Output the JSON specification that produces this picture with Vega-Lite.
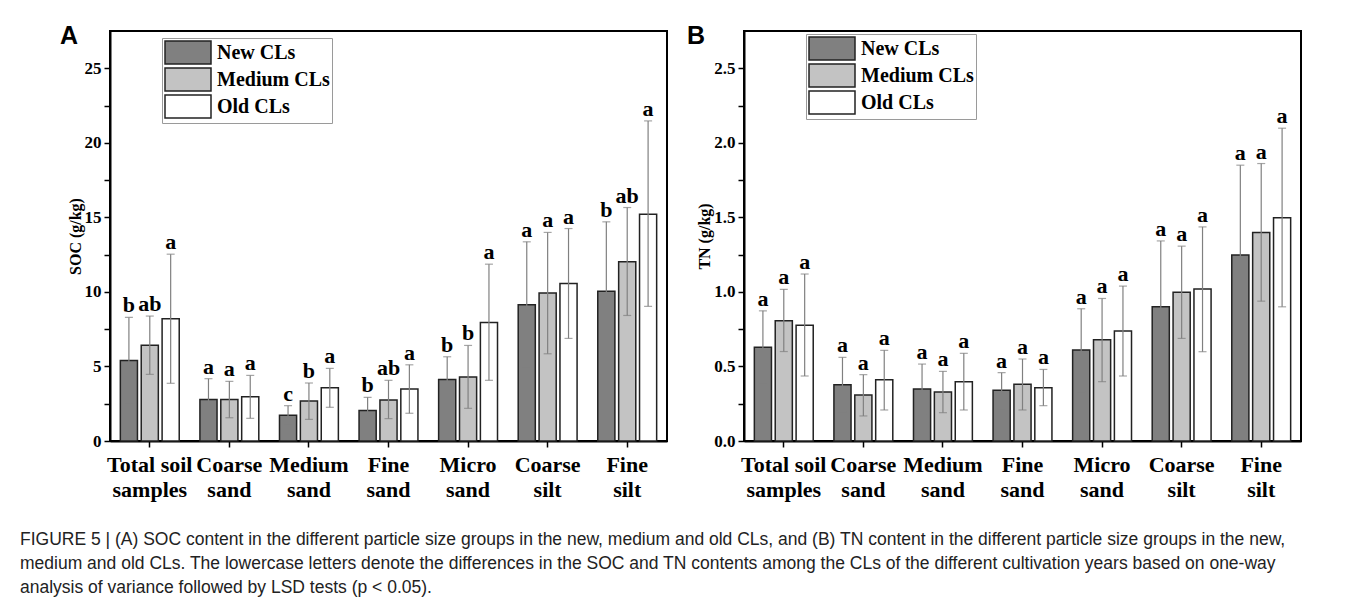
{
  "$schema": "https://vega.github.io/schema/vega-lite/v6.json",
  "padding": {"left": 20, "top": 23, "right": 5, "bottom": 0},
  "background": "white",
  "datasets": {
    "soc": [
      {"c": "Total soil|samples", "g": "New CLs", "m": 5.4, "lo": 2.46, "hi": 8.29, "l": "b"},
      {"c": "Total soil|samples", "g": "Medium CLs", "m": 6.43, "lo": 4.47, "hi": 8.38, "l": "ab"},
      {"c": "Total soil|samples", "g": "Old CLs", "m": 8.2, "lo": 3.87, "hi": 12.53, "l": "a"},
      {"c": "Coarse|sand", "g": "New CLs", "m": 2.79, "lo": 1.39, "hi": 4.18, "l": "a"},
      {"c": "Coarse|sand", "g": "Medium CLs", "m": 2.79, "lo": 1.56, "hi": 4.0, "l": "a"},
      {"c": "Coarse|sand", "g": "Old CLs", "m": 2.97, "lo": 1.52, "hi": 4.4, "l": "a"},
      {"c": "Medium|sand", "g": "New CLs", "m": 1.72, "lo": 1.05, "hi": 2.37, "l": "c"},
      {"c": "Medium|sand", "g": "Medium CLs", "m": 2.68, "lo": 1.45, "hi": 3.89, "l": "b"},
      {"c": "Medium|sand", "g": "Old CLs", "m": 3.57, "lo": 2.26, "hi": 4.87, "l": "a"},
      {"c": "Fine|sand", "g": "New CLs", "m": 2.05, "lo": 1.14, "hi": 2.93, "l": "b"},
      {"c": "Fine|sand", "g": "Medium CLs", "m": 2.75, "lo": 1.5, "hi": 4.07, "l": "ab"},
      {"c": "Fine|sand", "g": "Old CLs", "m": 3.49, "lo": 1.86, "hi": 5.11, "l": "a"},
      {"c": "Micro|sand", "g": "New CLs", "m": 4.13, "lo": 2.63, "hi": 5.65, "l": "b"},
      {"c": "Micro|sand", "g": "Medium CLs", "m": 4.29, "lo": 2.19, "hi": 6.41, "l": "b"},
      {"c": "Micro|sand", "g": "Old CLs", "m": 7.95, "lo": 4.07, "hi": 11.86, "l": "a"},
      {"c": "Coarse|silt", "g": "New CLs", "m": 9.14, "lo": 4.87, "hi": 13.36, "l": "a"},
      {"c": "Coarse|silt", "g": "Medium CLs", "m": 9.92, "lo": 5.85, "hi": 13.99, "l": "a"},
      {"c": "Coarse|silt", "g": "Old CLs", "m": 10.57, "lo": 6.88, "hi": 14.25, "l": "a"},
      {"c": "Fine|silt", "g": "New CLs", "m": 10.05, "lo": 5.41, "hi": 14.7, "l": "b"},
      {"c": "Fine|silt", "g": "Medium CLs", "m": 12.02, "lo": 8.42, "hi": 15.66, "l": "ab"},
      {"c": "Fine|silt", "g": "Old CLs", "m": 15.21, "lo": 9.03, "hi": 21.47, "l": "a"}
    ],
    "tn": [
      {"c": "Total soil|samples", "g": "New CLs", "m": 0.628, "lo": 0.38, "hi": 0.873, "l": "a"},
      {"c": "Total soil|samples", "g": "Medium CLs", "m": 0.806, "lo": 0.6, "hi": 1.017, "l": "a"},
      {"c": "Total soil|samples", "g": "Old CLs", "m": 0.777, "lo": 0.436, "hi": 1.12, "l": "a"},
      {"c": "Coarse|sand", "g": "New CLs", "m": 0.377, "lo": 0.197, "hi": 0.561, "l": "a"},
      {"c": "Coarse|sand", "g": "Medium CLs", "m": 0.308, "lo": 0.168, "hi": 0.445, "l": "a"},
      {"c": "Coarse|sand", "g": "Old CLs", "m": 0.411, "lo": 0.208, "hi": 0.608, "l": "a"},
      {"c": "Medium|sand", "g": "New CLs", "m": 0.349, "lo": 0.176, "hi": 0.516, "l": "a"},
      {"c": "Medium|sand", "g": "Medium CLs", "m": 0.328, "lo": 0.19, "hi": 0.467, "l": "a"},
      {"c": "Medium|sand", "g": "Old CLs", "m": 0.398, "lo": 0.208, "hi": 0.588, "l": "a"},
      {"c": "Fine|sand", "g": "New CLs", "m": 0.34, "lo": 0.217, "hi": 0.458, "l": "a"},
      {"c": "Fine|sand", "g": "Medium CLs", "m": 0.38, "lo": 0.208, "hi": 0.55, "l": "a"},
      {"c": "Fine|sand", "g": "Old CLs", "m": 0.357, "lo": 0.237, "hi": 0.48, "l": "a"},
      {"c": "Micro|sand", "g": "New CLs", "m": 0.61, "lo": 0.328, "hi": 0.887, "l": "a"},
      {"c": "Micro|sand", "g": "Medium CLs", "m": 0.679, "lo": 0.398, "hi": 0.956, "l": "a"},
      {"c": "Micro|sand", "g": "Old CLs", "m": 0.737, "lo": 0.436, "hi": 1.039, "l": "a"},
      {"c": "Coarse|silt", "g": "New CLs", "m": 0.9, "lo": 0.458, "hi": 1.342, "l": "a"},
      {"c": "Coarse|silt", "g": "Medium CLs", "m": 0.997, "lo": 0.688, "hi": 1.307, "l": "a"},
      {"c": "Coarse|silt", "g": "Old CLs", "m": 1.019, "lo": 0.599, "hi": 1.436, "l": "a"},
      {"c": "Fine|silt", "g": "New CLs", "m": 1.247, "lo": 0.65, "hi": 1.85, "l": "a"},
      {"c": "Fine|silt", "g": "Medium CLs", "m": 1.399, "lo": 0.938, "hi": 1.861, "l": "a"},
      {"c": "Fine|silt", "g": "Old CLs", "m": 1.497, "lo": 0.9, "hi": 2.098, "l": "a"}
    ]
  },
  "bounds": "flush",
  "spacing": 77,
  "resolve": {"scale": {"fill": "independent", "y": "independent"}, "legend": {"fill": "independent"}},
  "title": {
    "text": [
      "FIGURE 5 | (A) SOC content in the different particle size groups in the new, medium and old CLs, and (B) TN content in the different particle size groups in the new,",
      "medium and old CLs. The lowercase letters denote the differences in the SOC and TN contents among the CLs of the different cultivation years based on one-way",
      "analysis of variance followed by LSD tests (p < 0.05)."
    ],
    "orient": "bottom",
    "anchor": "start",
    "frame": "group",
    "dx": -90,
    "offset": 30,
    "font": "Liberation Sans",
    "fontSize": 17.5,
    "fontWeight": "normal",
    "lineHeight": 24,
    "color": "#222"
  },
  "hconcat": [
    {
      "width": 557,
      "height": 410,
      "title": {"text": "A", "anchor": "start", "frame": "group", "dx": -50, "dy": 38, "offset": 0, "baseline": "alphabetic", "font": "Liberation Sans", "fontSize": 25, "fontWeight": "bold", "color": "black"},
      "data": {"name": "soc"},
      "layer": [
        {
          "mark": {"type": "bar", "stroke": "#222", "strokeWidth": 1.5},
          "encoding": {
            "x": {"field": "c", "type": "nominal", "sort": ["Total soil|samples", "Coarse|sand", "Medium|sand", "Fine|sand", "Micro|sand", "Coarse|silt", "Fine|silt"], "scale": {"paddingInner": 0.26, "paddingOuter": 0.13}, "axis": {"title": null, "labelExpr": "split(datum.value, '|')", "labelAngle": 0}},
            "xOffset": {"field": "g", "type": "nominal", "sort": ["New CLs", "Medium CLs", "Old CLs"], "scale": {"paddingInner": 0.18, "paddingOuter": 0}},
            "y": {"field": "m", "type": "quantitative", "scale": {"domain": [0, 27.5], "nice": false}, "axis": {"title": "SOC (g/kg)", "values": [0, 2.5, 5, 7.5, 10, 12.5, 15, 17.5, 20, 22.5, 25], "labelExpr": "datum.value % 5 === 0 ? datum.label : ''"}},
            "fill": {"field": "g", "type": "nominal", "sort": ["New CLs", "Medium CLs", "Old CLs"], "scale": {"domain": ["New CLs", "Medium CLs", "Old CLs"], "range": ["#808080", "#c3c3c3", "#ffffff"]}, "legend": {"legendX": 52, "legendY": 7}}
          }
        },
        {
          "mark": {"type": "rule", "color": "#808080", "strokeWidth": 1.2},
          "encoding": {
            "x": {"field": "c", "type": "nominal", "sort": ["Total soil|samples", "Coarse|sand", "Medium|sand", "Fine|sand", "Micro|sand", "Coarse|silt", "Fine|silt"]},
            "xOffset": {"field": "g", "type": "nominal", "sort": ["New CLs", "Medium CLs", "Old CLs"]},
            "y": {"field": "lo", "type": "quantitative"},
            "y2": {"field": "hi"}
          }
        },
        {
          "mark": {"type": "tick", "color": "#808080", "thickness": 1.2, "size": 8},
          "encoding": {
            "x": {"field": "c", "type": "nominal", "sort": ["Total soil|samples", "Coarse|sand", "Medium|sand", "Fine|sand", "Micro|sand", "Coarse|silt", "Fine|silt"]},
            "xOffset": {"field": "g", "type": "nominal", "sort": ["New CLs", "Medium CLs", "Old CLs"]},
            "y": {"field": "lo", "type": "quantitative"}
          }
        },
        {
          "mark": {"type": "tick", "color": "#808080", "thickness": 1.2, "size": 8},
          "encoding": {
            "x": {"field": "c", "type": "nominal", "sort": ["Total soil|samples", "Coarse|sand", "Medium|sand", "Fine|sand", "Micro|sand", "Coarse|silt", "Fine|silt"]},
            "xOffset": {"field": "g", "type": "nominal", "sort": ["New CLs", "Medium CLs", "Old CLs"]},
            "y": {"field": "hi", "type": "quantitative"}
          }
        },
        {
          "mark": {"type": "text", "font": "Liberation Serif", "fontWeight": "bold", "fontSize": 22, "baseline": "alphabetic", "dy": -5, "color": "black"},
          "encoding": {
            "x": {"field": "c", "type": "nominal", "sort": ["Total soil|samples", "Coarse|sand", "Medium|sand", "Fine|sand", "Micro|sand", "Coarse|silt", "Fine|silt"]},
            "xOffset": {"field": "g", "type": "nominal", "sort": ["New CLs", "Medium CLs", "Old CLs"]},
            "y": {"field": "hi", "type": "quantitative"},
            "text": {"field": "l"}
          }
        }
      ]
    },
    {
      "width": 557,
      "height": 410,
      "title": {"text": "B", "anchor": "start", "frame": "group", "dx": -57, "dy": 38, "offset": 0, "baseline": "alphabetic", "font": "Liberation Sans", "fontSize": 25, "fontWeight": "bold", "color": "black"},
      "data": {"name": "tn"},
      "layer": [
        {
          "mark": {"type": "bar", "stroke": "#222", "strokeWidth": 1.5},
          "encoding": {
            "x": {"field": "c", "type": "nominal", "sort": ["Total soil|samples", "Coarse|sand", "Medium|sand", "Fine|sand", "Micro|sand", "Coarse|silt", "Fine|silt"], "scale": {"paddingInner": 0.26, "paddingOuter": 0.13}, "axis": {"title": null, "labelExpr": "split(datum.value, '|')", "labelAngle": 0}},
            "xOffset": {"field": "g", "type": "nominal", "sort": ["New CLs", "Medium CLs", "Old CLs"], "scale": {"paddingInner": 0.18, "paddingOuter": 0}},
            "y": {"field": "m", "type": "quantitative", "scale": {"domain": [0, 2.75], "nice": false}, "axis": {"title": "TN (g/kg)", "values": [0, 0.25, 0.5, 0.75, 1, 1.25, 1.5, 1.75, 2, 2.25, 2.5], "format": ".1f", "labelExpr": "(datum.value * 4) % 2 === 0 ? datum.label : ''"}},
            "fill": {"field": "g", "type": "nominal", "sort": ["New CLs", "Medium CLs", "Old CLs"], "scale": {"domain": ["New CLs", "Medium CLs", "Old CLs"], "range": ["#808080", "#c3c3c3", "#ffffff"]}, "legend": {"legendX": 62, "legendY": 3}}
          }
        },
        {
          "mark": {"type": "rule", "color": "#808080", "strokeWidth": 1.2},
          "encoding": {
            "x": {"field": "c", "type": "nominal", "sort": ["Total soil|samples", "Coarse|sand", "Medium|sand", "Fine|sand", "Micro|sand", "Coarse|silt", "Fine|silt"]},
            "xOffset": {"field": "g", "type": "nominal", "sort": ["New CLs", "Medium CLs", "Old CLs"]},
            "y": {"field": "lo", "type": "quantitative"},
            "y2": {"field": "hi"}
          }
        },
        {
          "mark": {"type": "tick", "color": "#808080", "thickness": 1.2, "size": 8},
          "encoding": {
            "x": {"field": "c", "type": "nominal", "sort": ["Total soil|samples", "Coarse|sand", "Medium|sand", "Fine|sand", "Micro|sand", "Coarse|silt", "Fine|silt"]},
            "xOffset": {"field": "g", "type": "nominal", "sort": ["New CLs", "Medium CLs", "Old CLs"]},
            "y": {"field": "lo", "type": "quantitative"}
          }
        },
        {
          "mark": {"type": "tick", "color": "#808080", "thickness": 1.2, "size": 8},
          "encoding": {
            "x": {"field": "c", "type": "nominal", "sort": ["Total soil|samples", "Coarse|sand", "Medium|sand", "Fine|sand", "Micro|sand", "Coarse|silt", "Fine|silt"]},
            "xOffset": {"field": "g", "type": "nominal", "sort": ["New CLs", "Medium CLs", "Old CLs"]},
            "y": {"field": "hi", "type": "quantitative"}
          }
        },
        {
          "mark": {"type": "text", "font": "Liberation Serif", "fontWeight": "bold", "fontSize": 22, "baseline": "alphabetic", "dy": -5, "color": "black"},
          "encoding": {
            "x": {"field": "c", "type": "nominal", "sort": ["Total soil|samples", "Coarse|sand", "Medium|sand", "Fine|sand", "Micro|sand", "Coarse|silt", "Fine|silt"]},
            "xOffset": {"field": "g", "type": "nominal", "sort": ["New CLs", "Medium CLs", "Old CLs"]},
            "y": {"field": "hi", "type": "quantitative"},
            "text": {"field": "l"}
          }
        }
      ]
    }
  ],
  "config": {
    "view": {"stroke": "black", "strokeWidth": 2},
    "axis": {
      "grid": false,
      "domainColor": "black",
      "domainWidth": 2,
      "tickColor": "black",
      "tickWidth": 1.5,
      "tickSize": 6,
      "labelFont": "Liberation Serif",
      "labelFontWeight": "bold",
      "labelColor": "black",
      "titleFont": "Liberation Serif",
      "titleFontWeight": "bold",
      "titleColor": "black",
      "titleFontSize": 16
    },
    "axisX": {"labelFontSize": 22, "labelLineHeight": 25, "labelPadding": 7, "labelBaseline": "top"},
    "axisY": {"labelFontSize": 17, "labelPadding": 3, "titlePadding": 1},
    "legend": {
      "orient": "none",
      "title": null,
      "symbolType": "M-1,-1H3V1H-1Z",
      "symbolSize": 529,
      "symbolStrokeColor": "#222",
      "symbolStrokeWidth": 1.5,
      "symbolOpacity": 1,
      "labelFont": "Liberation Serif",
      "labelFontWeight": "bold",
      "labelFontSize": 20,
      "labelColor": "black",
      "labelOffset": 28,
      "rowPadding": -5,
      "padding": 2,
      "strokeColor": "#9a9a9a",
      "fillColor": "white",
      "labelLimit": 300
    }
  }
}
